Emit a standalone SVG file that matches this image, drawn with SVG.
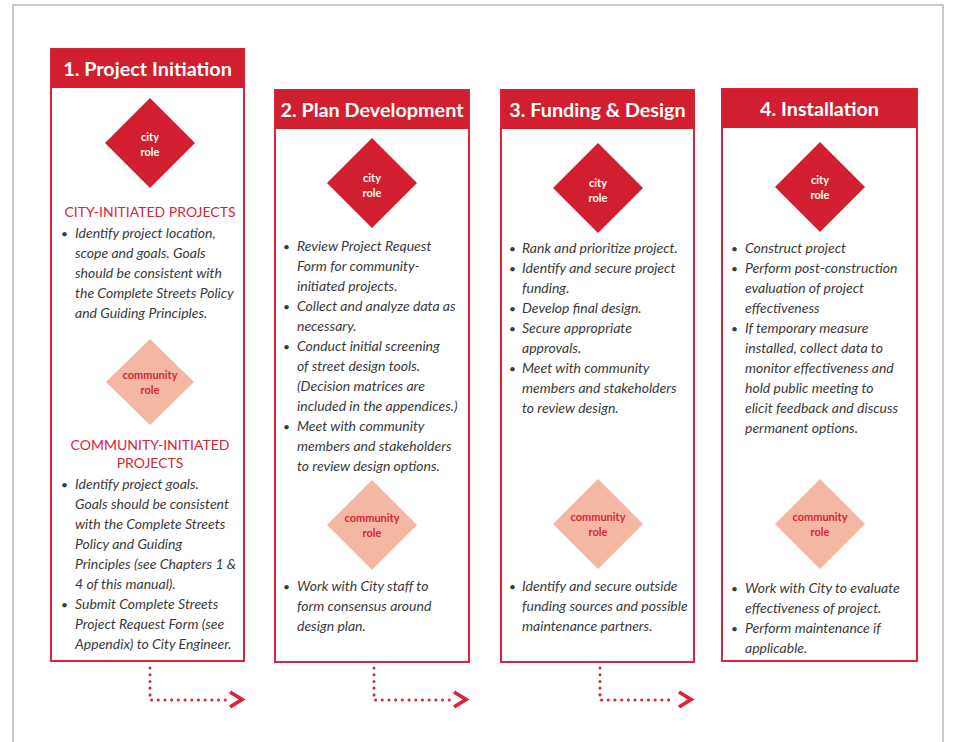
<svg xmlns="http://www.w3.org/2000/svg" width="957" height="742" viewBox="0 0 957 742">
<style>
.frame{fill:#ffffff;stroke:#a9a9a9;stroke-width:1.2}
.box{fill:#ffffff;stroke:#d9243a;stroke-width:2}
.head{fill:#d21f30}
.title{font-family:Lato,"Open Sans","Liberation Sans",sans-serif;font-weight:700;font-size:19.8px;fill:#ffffff;text-anchor:middle}
.city{fill:#d21f30}
.comm{fill:#f3b7a2}
.dcity{font-family:Lato,"Liberation Sans",sans-serif;font-weight:700;font-size:11px;fill:#ffffff;text-anchor:middle}
.dcomm{font-family:Lato,"Liberation Sans",sans-serif;font-weight:700;font-size:11px;fill:#d9243a;text-anchor:middle}
.sec{font-family:Lato,"Liberation Sans",sans-serif;font-size:14px;fill:#d9243a;text-anchor:middle}
.t{font-family:Lato,"Liberation Sans",sans-serif;font-style:italic;font-size:14px;fill:#3a3a3a}
.b{font-family:Lato,"Liberation Sans",sans-serif;font-size:12px;fill:#3a3a3a}
.dot{fill:none;stroke:#d9243a;stroke-width:3;stroke-linecap:round;stroke-dasharray:0.1 6.6}
.chev{fill:none;stroke:#d9243a;stroke-width:3.8;stroke-linecap:butt;stroke-linejoin:miter}
</style>
<rect x="0" y="0" width="957" height="742" fill="#ffffff"/>
<rect class="frame" x="13" y="5" width="930" height="745"/>

<g id="connectors">
<path class="dot" d="M150,668 V700 H226"/>
<polyline class="chev" points="230,692 242,699.5 230,707"/>
<path class="dot" d="M374,668 V700 H450"/>
<polyline class="chev" points="454,692 466,699.5 454,707"/>
<path class="dot" d="M600,668 V700 H675"/>
<polyline class="chev" points="679,692 691,699.5 679,707"/>
</g>

<g id="step1">
<rect class="box" x="51" y="49" width="193" height="612"/>
<rect class="head" x="51" y="49" width="193" height="39"/>
<text class="title" x="147.5" y="76">1. Project Initiation</text>
<polygon class="city" points="150,98 195,143 150,188 105,143"/>
<text class="dcity" x="150" y="141">city</text>
<text class="dcity" x="150" y="156">role</text>
<text class="sec" x="150" y="217">CITY-INITIATED PROJECTS</text>
<text class="b" x="61" y="238">•</text>
<text class="t" x="75" y="238">Identify project location,</text>
<text class="t" x="75" y="258">scope and goals. Goals</text>
<text class="t" x="75" y="278">should be consistent with</text>
<text class="t" x="75" y="298">the Complete Streets Policy</text>
<text class="t" x="75" y="318">and Guiding Principles.</text>
<polygon class="comm" points="150,339 194,382 150,425 106,382"/>
<text class="dcomm" x="150" y="379">community</text>
<text class="dcomm" x="150" y="394">role</text>
<text class="sec" x="150" y="450">COMMUNITY-INITIATED</text>
<text class="sec" x="150" y="468">PROJECTS</text>
<text class="b" x="61" y="489">•</text>
<text class="t" x="75" y="489">Identify project goals.</text>
<text class="t" x="75" y="509">Goals should be consistent</text>
<text class="t" x="75" y="529">with the Complete Streets</text>
<text class="t" x="75" y="549">Policy and Guiding</text>
<text class="t" x="75" y="569">Principles (see Chapters 1 &amp;</text>
<text class="t" x="75" y="589">4 of this manual).</text>
<text class="b" x="61" y="609">•</text>
<text class="t" x="75" y="609">Submit Complete Streets</text>
<text class="t" x="75" y="629">Project Request Form (see</text>
<text class="t" x="75" y="649">Appendix)  to City Engineer.</text>
</g>

<g id="step2">
<rect class="box" x="275" y="90" width="194" height="572"/>
<rect class="head" x="275" y="90" width="194" height="39"/>
<text class="title" x="372" y="116.5">2. Plan Development</text>
<polygon class="city" points="372,138 417,183 372,228 327,183"/>
<text class="dcity" x="372" y="182">city</text>
<text class="dcity" x="372" y="197">role</text>
<text class="b" x="283" y="251">•</text>
<text class="t" x="297" y="251">Review Project Request</text>
<text class="t" x="297" y="271">Form for community-</text>
<text class="t" x="297" y="291">initiated projects.</text>
<text class="b" x="283" y="311">•</text>
<text class="t" x="297" y="311">Collect and analyze data as</text>
<text class="t" x="297" y="331">necessary.</text>
<text class="b" x="283" y="351">•</text>
<text class="t" x="297" y="351">Conduct initial screening</text>
<text class="t" x="297" y="371">of  street design tools.</text>
<text class="t" x="297" y="391">(Decision matrices are</text>
<text class="t" x="297" y="411">included in the appendices.)</text>
<text class="b" x="283" y="431">•</text>
<text class="t" x="297" y="431">Meet with community</text>
<text class="t" x="297" y="451">members and stakeholders</text>
<text class="t" x="297" y="471">to review design options.</text>
<polygon class="comm" points="372,480 417,525 372,570 327,525"/>
<text class="dcomm" x="372" y="522">community</text>
<text class="dcomm" x="372" y="537">role</text>
<text class="b" x="283" y="591">•</text>
<text class="t" x="297" y="591">Work with City staff to</text>
<text class="t" x="297" y="611">form consensus around</text>
<text class="t" x="297" y="631">design plan.</text>
</g>

<g id="step3">
<rect class="box" x="501" y="90" width="193" height="572"/>
<rect class="head" x="501" y="90" width="193" height="39"/>
<text class="title" x="597.5" y="116.5">3. Funding &amp; Design</text>
<polygon class="city" points="598,143 643,188 598,233 553,188"/>
<text class="dcity" x="598" y="187">city</text>
<text class="dcity" x="598" y="202">role</text>
<text class="b" x="509" y="253">•</text>
<text class="t" x="522" y="253">Rank and prioritize project.</text>
<text class="b" x="509" y="273">•</text>
<text class="t" x="522" y="273">Identify and secure project</text>
<text class="t" x="522" y="293">funding.</text>
<text class="b" x="509" y="313">•</text>
<text class="t" x="522" y="313">Develop final design.</text>
<text class="b" x="509" y="333">•</text>
<text class="t" x="522" y="333">Secure appropriate</text>
<text class="t" x="522" y="353">approvals.</text>
<text class="b" x="509" y="373">•</text>
<text class="t" x="522" y="373">Meet with community</text>
<text class="t" x="522" y="393">members and stakeholders</text>
<text class="t" x="522" y="413">to review design.</text>
<polygon class="comm" points="598,479 643,524 598,569 553,524"/>
<text class="dcomm" x="598" y="521">community</text>
<text class="dcomm" x="598" y="536">role</text>
<text class="b" x="509" y="591">•</text>
<text class="t" x="522" y="591">Identify and secure outside</text>
<text class="t" x="522" y="611">funding sources and possible</text>
<text class="t" x="522" y="631">maintenance partners.</text>
</g>

<g id="step4">
<rect class="box" x="722" y="89" width="195" height="572"/>
<rect class="head" x="722" y="89" width="195" height="39"/>
<text class="title" x="819.5" y="115.5">4. Installation</text>
<polygon class="city" points="820,142 865,187 820,232 775,187"/>
<text class="dcity" x="820" y="184">city</text>
<text class="dcity" x="820" y="199">role</text>
<text class="b" x="731" y="253">•</text>
<text class="t" x="745" y="253">Construct project</text>
<text class="b" x="731" y="273">•</text>
<text class="t" x="745" y="273">Perform post-construction</text>
<text class="t" x="745" y="293">evaluation of project</text>
<text class="t" x="745" y="313">effectiveness</text>
<text class="b" x="731" y="333">•</text>
<text class="t" x="745" y="333">If temporary measure</text>
<text class="t" x="745" y="353">installed, collect data to</text>
<text class="t" x="745" y="373">monitor effectiveness and</text>
<text class="t" x="745" y="393">hold public meeting to</text>
<text class="t" x="745" y="413">elicit feedback and discuss</text>
<text class="t" x="745" y="433">permanent options.</text>
<polygon class="comm" points="820,479 865,524 820,569 775,524"/>
<text class="dcomm" x="820" y="521">community</text>
<text class="dcomm" x="820" y="536">role</text>
<text class="b" x="731" y="593">•</text>
<text class="t" x="745" y="593">Work with City to evaluate</text>
<text class="t" x="745" y="613">effectiveness of project.</text>
<text class="b" x="731" y="633">•</text>
<text class="t" x="745" y="633">Perform maintenance if</text>
<text class="t" x="745" y="653">applicable.</text>
</g>
</svg>
